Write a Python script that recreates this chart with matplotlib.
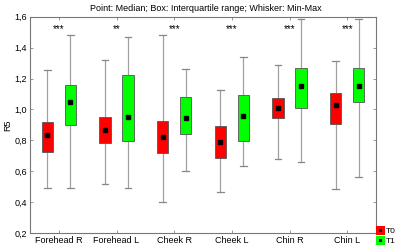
import numpy as np
import matplotlib.pyplot as plt
from matplotlib.lines import Line2D

# =====================================================
# Data
# =====================================================

regions = ["Forehead R", "Forehead L", "Cheek R", "Cheek L", "Chin R", "Chin L"]
stars = ["***", "**", "***", "***", "***", "***"]

t0_min = [0.49, 0.52, 0.40, 0.465, 0.677, 0.486]
t0_q1 = [0.722, 0.783, 0.718, 0.686, 0.946, 0.904]
t0_med = [0.836, 0.869, 0.819, 0.791, 1.008, 1.03]
t0_q3 = [0.916, 0.948, 0.925, 0.893, 1.075, 1.107]
t0_max = [1.254, 1.323, 1.481, 1.129, 1.288, 1.312]

t1_min = [0.49, 0.488, 0.60, 0.636, 0.658, 0.561]
t1_q1 = [0.90, 0.793, 0.839, 0.798, 1.008, 1.049]
t1_med = [1.045, 0.952, 0.946, 0.957, 1.15, 1.15]
t1_q3 = [1.161, 1.226, 1.081, 1.094, 1.266, 1.266]
t1_max = [1.481, 1.471, 1.265, 1.337, 1.585, 1.585]

# =====================================================
# Plot
# =====================================================

plt.rcParams["font.family"] = ["Liberation Sans", "DejaVu Sans"]

fig = plt.figure(figsize=(4.0, 2.47), dpi=100)
ax = fig.add_axes([0.075, 0.057, 0.865, 0.875])

x = np.arange(len(regions))
box_w = 0.2
offset = 0.2


def draw_group(xs, lo, q1, med, q3, hi, color):
    for xi, a, b, m, c, d in zip(xs, lo, q1, med, q3, hi):
        ax.plot([xi, xi], [a, b], color="#a0a0a0", lw=0.9, zorder=1)
        ax.plot([xi, xi], [c, d], color="#a0a0a0", lw=0.9, zorder=1)
        ax.plot([xi - 0.06, xi + 0.06], [a, a], color="#888888", lw=0.9, zorder=1)
        ax.plot([xi - 0.06, xi + 0.06], [d, d], color="#888888", lw=0.9, zorder=1)
        ax.add_patch(plt.Rectangle((xi - box_w / 2, b), box_w, c - b,
                                   facecolor=color, edgecolor="#555555",
                                   lw=0.6, zorder=2))
        ax.plot(xi, m, marker="s", color="black", ms=2.5, zorder=3)


draw_group(x - offset, t0_min, t0_q1, t0_med, t0_q3, t0_max, "#ff0000")
draw_group(x + offset, t1_min, t1_q1, t1_med, t1_q3, t1_max, "#00ff00")

for xi, s in zip(x, stars):
    ax.text(xi, 1.49, s, ha="center", va="bottom", fontsize=7, color="black")

ax.set_xlim(-0.5, len(regions) - 0.5)
ax.set_ylim(0.2, 1.6)
ax.set_xticks(x)
ax.set_xticklabels(regions, fontsize=6.5)
yt = np.arange(0.2, 1.61, 0.2)
ax.set_yticks(yt)
ax.set_yticklabels([f"{v:.1f}".replace(".", ",") for v in yt], fontsize=6.5)
ax.set_ylabel("R5", fontsize=6.5, labelpad=2)
ax.tick_params(direction="in", length=2, width=0.6, color="#888888",
               top=True, right=True, pad=2)
for sp in ax.spines.values():
    sp.set_color("#777777")
    sp.set_linewidth(0.8)

fig.text(0.515, 0.985, "Point: Median; Box: Interquartile range; Whisker: Min-Max",
         ha="center", va="top", fontsize=6.5)

handles = [
    Line2D([0], [0], marker="s", ls="none", markerfacecolor="black",
           markeredgecolor="#ff0000", markeredgewidth=2.2, ms=5),
    Line2D([0], [0], marker="s", ls="none", markerfacecolor="black",
           markeredgecolor="#00ff00", markeredgewidth=2.2, ms=5),
]
fig.legend(handles, ["T0", "T1"], loc="lower left",
           bbox_to_anchor=(0.94, 0.005), frameon=False, fontsize=6,
           handlelength=0.8, handletextpad=0.3, labelspacing=0.3,
           borderpad=0.1, borderaxespad=0)

fig.savefig("out.png", dpi=100)
